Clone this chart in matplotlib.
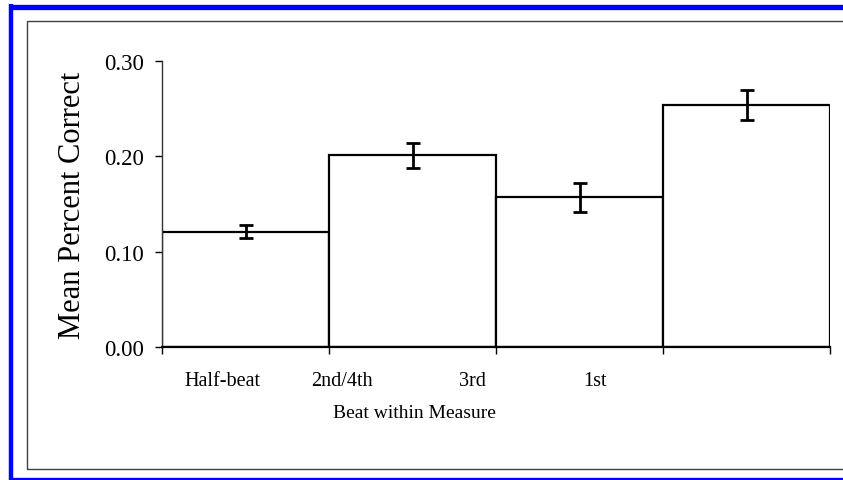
import matplotlib
matplotlib.use("Agg")
import matplotlib.pyplot as plt
from matplotlib.lines import Line2D
from matplotlib.patches import Rectangle
import numpy as np

categories = ["Half-beat", "2nd/4th", "3rd", "1st"]
means = [0.121, 0.201, 0.157, 0.254]
errors = [0.007, 0.013, 0.015, 0.016]
label_positions = [-0.14, 0.58, 1.36, 2.09]
yticks = [0.00, 0.10, 0.20, 0.30]
ytick_labels = ["0.00", "0.10", "0.20", "0.30"]

plt.rcParams['font.family'] = ['Liberation Serif', 'DejaVu Serif']

W, H = 843, 481
fig = plt.figure(figsize=(W / 100, H / 100), dpi=100)
fig.patch.set_facecolor('white')

def fx(px):
    return px / W

def fy(py):
    return 1 - py / H

ax = fig.add_axes([fx(162), fy(348), fx(830) - fx(162), fy(62) - fy(348)])

x = np.arange(len(categories))
ax.bar(x, means, width=1.0, color='white', edgecolor='black', linewidth=1.6, zorder=2)
ax.errorbar(x, means, yerr=errors, fmt='none', ecolor='black', elinewidth=2.0,
            capsize=4.8, capthick=2.0, zorder=3)

ax.set_xlim(-0.5, len(categories) - 0.5)
ax.set_ylim(0, 0.30)
ax.set_yticks(yticks)
ax.set_yticklabels(ytick_labels, fontsize=16.5)
ax.tick_params(axis='y', direction='out', length=5, width=1, pad=8, colors='black')

ax.set_xticks(label_positions)
ax.set_xticklabels(categories, fontsize=14.5)
ax.tick_params(axis='x', which='major', length=0, pad=17)
ax.set_xticks(np.arange(len(categories) + 1) - 0.5, minor=True)
ax.tick_params(axis='x', which='minor', direction='out', length=5, width=1)

for s in ['top', 'right']:
    ax.spines[s].set_visible(False)
ax.spines['left'].set_linewidth(1.0)
ax.spines['left'].set_color('#333333')
ax.spines['bottom'].set_linewidth(1.6)

ax.set_xlabel("Beat within Measure", fontsize=14)
ax.xaxis.label.set_va('baseline')
ax.xaxis.set_label_coords((414 - 162) / 668, (348 - 418) / 286)
ax.set_ylabel("Mean Percent Correct", fontsize=22)
ax.yaxis.label.set_va('center')
ax.yaxis.set_label_coords((73 - 162) / 668, 0.5)

# inner gray frame
fig.add_artist(Rectangle((fx(27), fy(469.5)), fx(860) - fx(27), fy(22) - fy(469.5),
                         transform=fig.transFigure, fill=False, edgecolor='#404040',
                         linewidth=1.0))
# blue border
fig.add_artist(Line2D([fx(9), 1.02], [fy(7.5), fy(7.5)], transform=fig.transFigure,
                      color='#0000ff', linewidth=3.8, solid_capstyle='butt'))
fig.add_artist(Line2D([fx(11), fx(11)], [fy(5), fy(481)], transform=fig.transFigure,
                      color='#0000ff', linewidth=3.2, solid_capstyle='butt'))
fig.add_artist(Line2D([fx(9), 1.02], [fy(479.5), fy(479.5)], transform=fig.transFigure,
                      color='#0000ff', linewidth=2.4, solid_capstyle='butt'))

fig.savefig("out.png", dpi=100, facecolor='white')
